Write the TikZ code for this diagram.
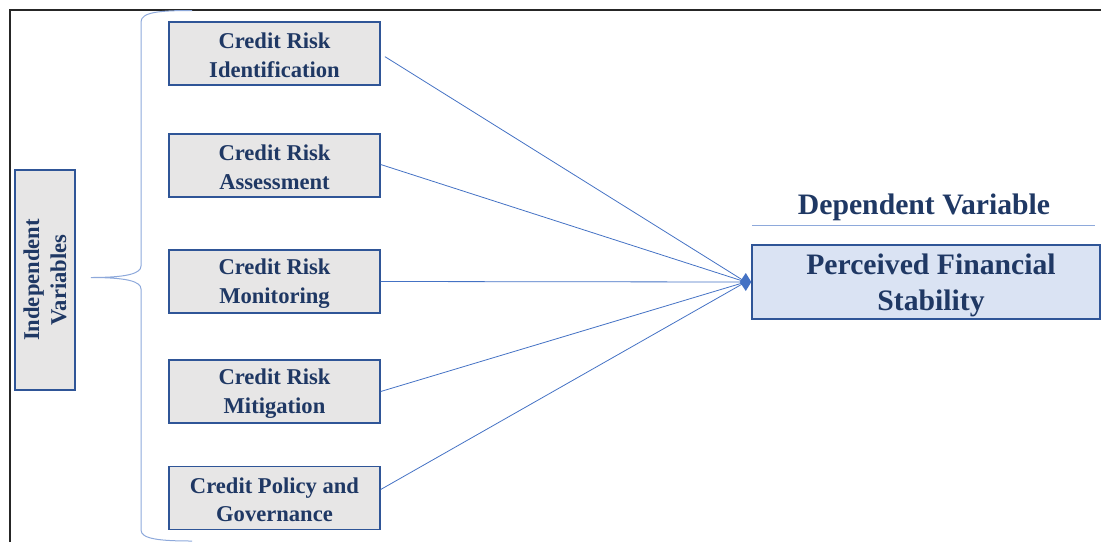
\documentclass[tikz,border=0pt]{standalone}
\usepackage{fontspec}
\setmainfont{Liberation Serif}
\definecolor{navy}{HTML}{1F3864}
\definecolor{boxedge}{HTML}{2F5597}
\definecolor{boxfill}{HTML}{E7E6E6}
\definecolor{linkblue}{HTML}{4472C4}
\definecolor{bracecol}{HTML}{8EA9DB}
\definecolor{targetfill}{HTML}{DAE3F3}
\tikzset{
  varbox/.style={draw=boxedge, line width=1.4pt, fill=boxfill, minimum width=211pt,
    minimum height=63pt, align=center, text=navy, inner sep=0pt,
    font=\fontsize{22.6}{28.5}\selectfont\bfseries},
  vartext/.style={yshift=-2pt},
  link/.style={draw=linkblue, line width=0.8pt},
}
\begin{document}
\begin{tikzpicture}[x=1pt,y=-1pt]
\useasboundingbox (0,0) rectangle (1101,542);
% frame (top and left edges)
\draw[line width=2pt, black!85] (9.5,542) -- (9.5,9.5) -- (1101,9.5);

% grouping label
\node[draw=boxedge, line width=1.4pt, fill=boxfill, minimum width=220pt, minimum height=60pt,
  inner sep=0pt, rotate=90, align=center, text=navy,
  font=\fontsize{22.6}{27}\selectfont\bfseries] (iv) at (45,280) {Independent\\Variables};

% curly brace
\draw[bracecol, line width=1pt] (192,10.5) .. controls (160,10.5) and (141,12) .. (141,22)
  -- (141,266) .. controls (141,274) and (125,277.5) .. (91,277.5)
  .. controls (125,277.5) and (141,281) .. (141,289)
  -- (141,530) .. controls (141,539) and (160,541) .. (192,541);

% independent variables
\node[varbox] (b1) at (274.5,53.5) {};
\node[varbox] (b2) at (274.5,165.5) {};
\node[varbox] (b3) at (274.5,281.5) {};
\node[varbox] (b4) at (274.5,391.5) {};
\node[varbox] (b5) at (274.5,498) {};
\node[varbox, draw=none, fill=none, vartext] (t1) at (b1) {Credit Risk\\Identification};
\node[varbox, draw=none, fill=none, vartext] (t2) at (b2) {Credit Risk\\Assessment};
\node[varbox, draw=none, fill=none, vartext] (t3) at (b3) {Credit Risk\\Monitoring};
\node[varbox, draw=none, fill=none, vartext] (t4) at (b4) {Credit Risk\\Mitigation};
\node[varbox, draw=none, fill=none, vartext] (t5) at (b5) {Credit Policy and\\Governance};

% dependent variable
\node[draw=boxedge, line width=1.4pt, fill=targetfill, minimum width=348pt, minimum height=74pt,
  inner sep=0pt] (dv) at (926,282) {};
\node[text=navy, align=center, inner sep=0pt, font=\fontsize{29.7}{36}\selectfont\bfseries]
  (dvtext) at ([xshift=5pt,yshift=-3pt]dv.center) {Perceived Financial\\Stability};
\node[text=navy, font=\fontsize{29.7}{34}\selectfont\bfseries, inner sep=0pt] (dvlabel) at (924,207) {Dependent Variable};
\coordinate (ruleL) at (752,225.5);
\coordinate (ruleR) at (1095,225.5);
\draw[bracecol, line width=1pt] (ruleL) -- (ruleR);

% links, all meeting at the diamond on the left edge of the outcome box
\coordinate (hub) at ([xshift=-5.5pt]dv.west);
\draw[link, shorten <=5pt] ([yshift=-0.5pt]b1.east) -- (hub);
\draw[link] ([yshift=1pt]b2.east) -- (hub);
\draw[link] (b3.east) -- (hub);
\draw[link] (b4.east) -- (hub);
\draw[link] ([yshift=8.5pt]b5.east) -- (hub);
\fill[linkblue] ([xshift=-6pt]hub) -- ([yshift=-9pt]hub) -- ([xshift=5.5pt]hub)
  -- ([yshift=9pt]hub) -- cycle;
\end{tikzpicture}
\end{document}
